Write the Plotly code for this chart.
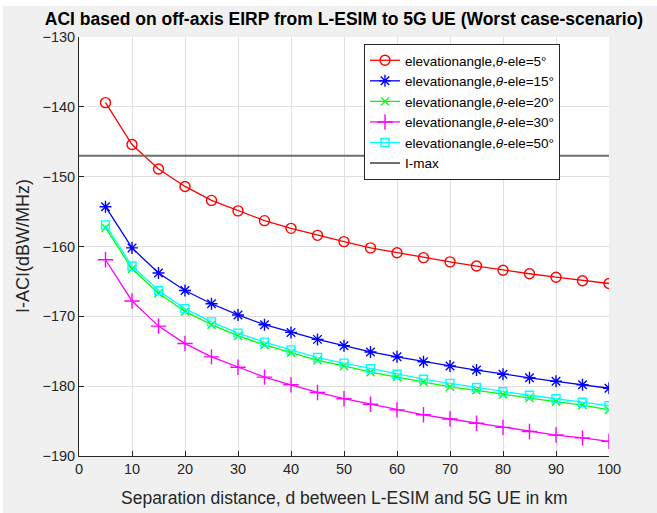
import plotly.graph_objects as go

distance_km = [5, 10, 15, 20, 25, 30, 35, 40, 45, 50, 55, 60, 65, 70, 75, 80, 85, 90, 95, 100]

aci_ele5 = [-139.4, -145.4, -148.9, -151.4, -153.4, -154.9, -156.3, -157.4, -158.4, -159.3,
            -160.2, -160.9, -161.6, -162.2, -162.8, -163.4, -163.9, -164.4, -164.9, -165.3]
aci_ele15 = [-154.3, -160.2, -163.8, -166.3, -168.2, -169.8, -171.2, -172.3, -173.3, -174.2,
             -175.1, -175.8, -176.5, -177.1, -177.7, -178.3, -178.8, -179.3, -179.8, -180.3]
aci_ele20 = [-157.3, -163.2, -166.7, -169.3, -171.2, -172.8, -174.1, -175.2, -176.3, -177.1,
             -178.0, -178.7, -179.4, -180.1, -180.6, -181.2, -181.7, -182.2, -182.7, -183.4]
aci_ele30 = [-161.9, -167.8, -171.4, -173.9, -175.8, -177.3, -178.7, -179.8, -180.9, -181.8,
             -182.6, -183.4, -184.1, -184.7, -185.3, -185.9, -186.5, -187.0, -187.4, -187.9]
aci_ele50 = [-156.9, -162.8, -166.3, -168.9, -170.8, -172.4, -173.7, -174.8, -175.9, -176.7,
             -177.5, -178.3, -179.0, -179.6, -180.2, -180.8, -181.3, -181.8, -182.3, -182.8]

imax_x = [0, 100]
imax_value = -147

series_names = [
    "elevationangle,<i>θ</i>-ele=5°",
    "elevationangle,<i>θ</i>-ele=15°",
    "elevationangle,<i>θ</i>-ele=20°",
    "elevationangle,<i>θ</i>-ele=30°",
    "elevationangle,<i>θ</i>-ele=50°",
]
series_values = [aci_ele5, aci_ele15, aci_ele20, aci_ele30, aci_ele50]
series_colors = ["#ff0000", "#0000ff", "#00ff00", "#ff00ff", "#00ffff"]
series_symbols = ["circle-open", "asterisk-open", "x-thin-open", "cross-thin-open", "square-open"]
series_sizes = [10, 10, 8, 11, 8]

x_range = [0, 100]
x_tick_step = 10
y_range = [-190, -130]
y_tick_step = 10

x_title = "Separation distance, d between L-ESIM and 5G UE in km"
y_title = "I-ACI(dBW/MHz)"
chart_title = "ACI based on off-axis EIRP from L-ESIM to 5G UE (Worst case-scenario)"

fig = go.Figure()
for name, vals, col, sym, sz in zip(series_names, series_values, series_colors, series_symbols, series_sizes):
    fig.add_trace(go.Scatter(
        x=distance_km, y=vals, name=name, mode="lines+markers",
        line=dict(color=col, width=1.3),
        marker=dict(symbol=sym, size=sz, color=col, line=dict(color=col, width=1.4)),
    ))

fig.add_trace(go.Scatter(
    x=imax_x, y=[imax_value] * len(imax_x), name="I-max", mode="lines",
    line=dict(color="#6e6e6e", width=2),
))

W, H = 657, 513
L, R, T, B = 79, 48, 37, 57
pw, ph = W - L - R, H - T - B

def px_x(x):
    return (x - L) / pw

def px_y(y):
    return (H - B - y) / ph

FONT = "Liberation Sans, Arial, sans-serif"
axis_font = dict(family=FONT, size=14.5, color="#262626")

fig.update_layout(
    width=W, height=H,
    margin=dict(l=L, r=R, t=T, b=B),
    paper_bgcolor="#f0f0f0",
    plot_bgcolor="#ffffff",
    font=dict(family=FONT, color="#262626"),
    title=dict(
        text="<b>" + chart_title + "</b>",
        x=px_x(344), xref="paper", xanchor="center",
        y=1 - 19 / H, yref="container", yanchor="middle",
        font=dict(family=FONT, size=17.5, color="#000000"),
    ),
    showlegend=True,
    legend=dict(
        x=px_x(364), y=px_y(44), xanchor="left", yanchor="top",
        bgcolor="#ffffff", bordercolor="#262626", borderwidth=1,
        font=dict(family=FONT, size=13.5, color="#000000"),
        tracegroupgap=0,
    ),
    xaxis=dict(
        range=x_range, tickmode="linear", tick0=x_range[0], dtick=x_tick_step,
        showgrid=True, gridcolor="#dfdfdf", gridwidth=1,
        showline=True, linecolor="#262626", linewidth=1, mirror=False,
        ticks="inside", ticklen=5, tickcolor="#262626",
        tickfont=axis_font, zeroline=False,
    ),
    yaxis=dict(
        range=y_range, tickmode="linear", tick0=y_range[0], dtick=y_tick_step,
        showgrid=True, gridcolor="#dfdfdf", gridwidth=1,
        showline=True, linecolor="#262626", linewidth=1, mirror=False,
        ticks="inside", ticklen=5, tickcolor="#262626",
        tickfont=axis_font, zeroline=False,
    ),
    annotations=[
        dict(text=x_title, xref="paper", yref="paper", x=px_x(344), y=px_y(498),
             xanchor="center", yanchor="middle", showarrow=False,
             font=dict(family=FONT, size=17.5, color="#262626")),
        dict(text=y_title, xref="paper", yref="paper", x=px_x(23), y=px_y(246),
             xanchor="center", yanchor="middle", showarrow=False, textangle=-90,
             font=dict(family=FONT, size=18, color="#262626")),
    ],
    shapes=[
        dict(type="rect", xref="paper", yref="paper", x0=px_x(0), x1=px_x(W), y0=px_y(6), y1=px_y(0),
             fillcolor="#ffffff", line=dict(width=0), layer="below"),
        dict(type="rect", xref="paper", yref="paper", x0=px_x(0), x1=px_x(3), y0=px_y(H), y1=px_y(0),
             fillcolor="#ffffff", line=dict(width=0), layer="below"),
    ],
)

fig.write_html("out.html")
